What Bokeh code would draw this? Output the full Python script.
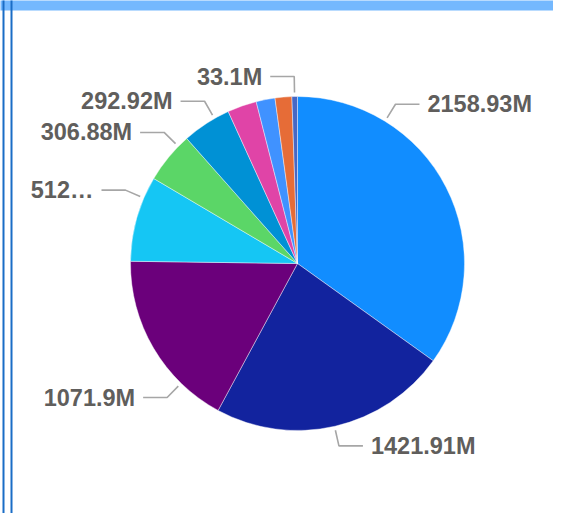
import math
from bokeh.plotting import figure
from bokeh.models import ColumnDataSource, Range1d
from bokeh.embed import file_html
from bokeh.resources import INLINE
from bokeh.core.properties import value

# ---- data ----
categories = ["S1", "S2", "S3", "S4", "S5", "S6", "S7", "S8", "S9", "S10"]
values = [2158.93, 1421.91, 1071.9, 512.4, 306.88, 292.92, 175.0, 113.0, 100.0, 33.1]
colors = ["#118DFF", "#12239E", "#6B007B", "#15C6F4", "#5BD667",
          "#0091D5", "#E044A7", "#4092FF", "#E66C37", "#4668C5"]
label_text = ["2158.93M", "1421.91M", "1071.9M", "512\u2026", "306.88M", "292.92M", "33.1M"]
# layout: leader direction for each label (degrees clockwise from 12 o'clock)
label_angle_deg = [31.6, 167.2, 224.2, 293.1, 314.5, 330.2, 359.0]

# ---- layout ----
W, H = 553, 513
cx, cy, r = 297, H - 263, 167

total = sum(values)
starts, ends = [], []
acc = 0.0
for v in values:
    starts.append(math.pi / 2 - 2 * math.pi * acc / total)
    acc += v
    ends.append(math.pi / 2 - 2 * math.pi * acc / total)

src = ColumnDataSource(dict(cat=categories, val=values, start=starts, end=ends, color=colors))

p = figure(width=W, height=H, x_range=Range1d(0, W), y_range=Range1d(0, H),
           output_backend="svg", toolbar_location=None, tools="",
           x_axis_type=None, y_axis_type=None, min_border=0)
p.grid.visible = False
p.outline_line_color = None
p.background_fill_color = "white"
p.border_fill_color = "white"

# card frame
p.quad(left=-1, right=W + 1, bottom=H - 10, top=H + 1, fill_color="#74B8FE", line_color=None)
p.line(x=[3, 3], y=[H + 1, -1], line_color="#1A6DC6", line_width=2)
p.line(x=[11, 11], y=[H + 1, -1], line_color="#1A6DC6", line_width=2)

p.wedge(x=cx, y=cy, radius=r, start_angle="start", end_angle="end", direction="clock",
        fill_color="color", line_color="white", line_width=0.6, line_alpha=0.7, source=src)

xs, ys = [], []
lx, ly, lt = [], [], []
rx, ry, rt = [], [], []
for txt, a in zip(label_text, label_angle_deg):
    t = math.radians(a)
    ux, uy = math.sin(t), math.cos(t)
    sx, sy = cx + 171 * ux, cy + 171 * uy
    ex, ey = cx + 187 * ux, cy + 187 * uy
    side = 1 if ux > 0 else -1
    hx = ex + side * 24
    xs.append([sx, ex, hx])
    ys.append([sy, ey, ey])
    if side > 0:
        lx.append(hx + 8); ly.append(ey); lt.append(txt)
    else:
        rx.append(hx - 8); ry.append(ey); rt.append(txt)

p.multi_line(xs=xs, ys=ys, line_color="#A6A6A6", line_width=1.6)
p.text(x=lx, y=ly, text=lt, text_align="left", text_baseline="middle",
       text_font=value("Liberation Sans"), text_font_style="bold",
       text_font_size="23.5px", text_color="#605E5C")
p.text(x=rx, y=ry, text=rt, text_align="right", text_baseline="middle",
       text_font=value("Liberation Sans"), text_font_style="bold",
       text_font_size="23.5px", text_color="#605E5C")

open("out.html", "w").write(file_html(p, INLINE))
